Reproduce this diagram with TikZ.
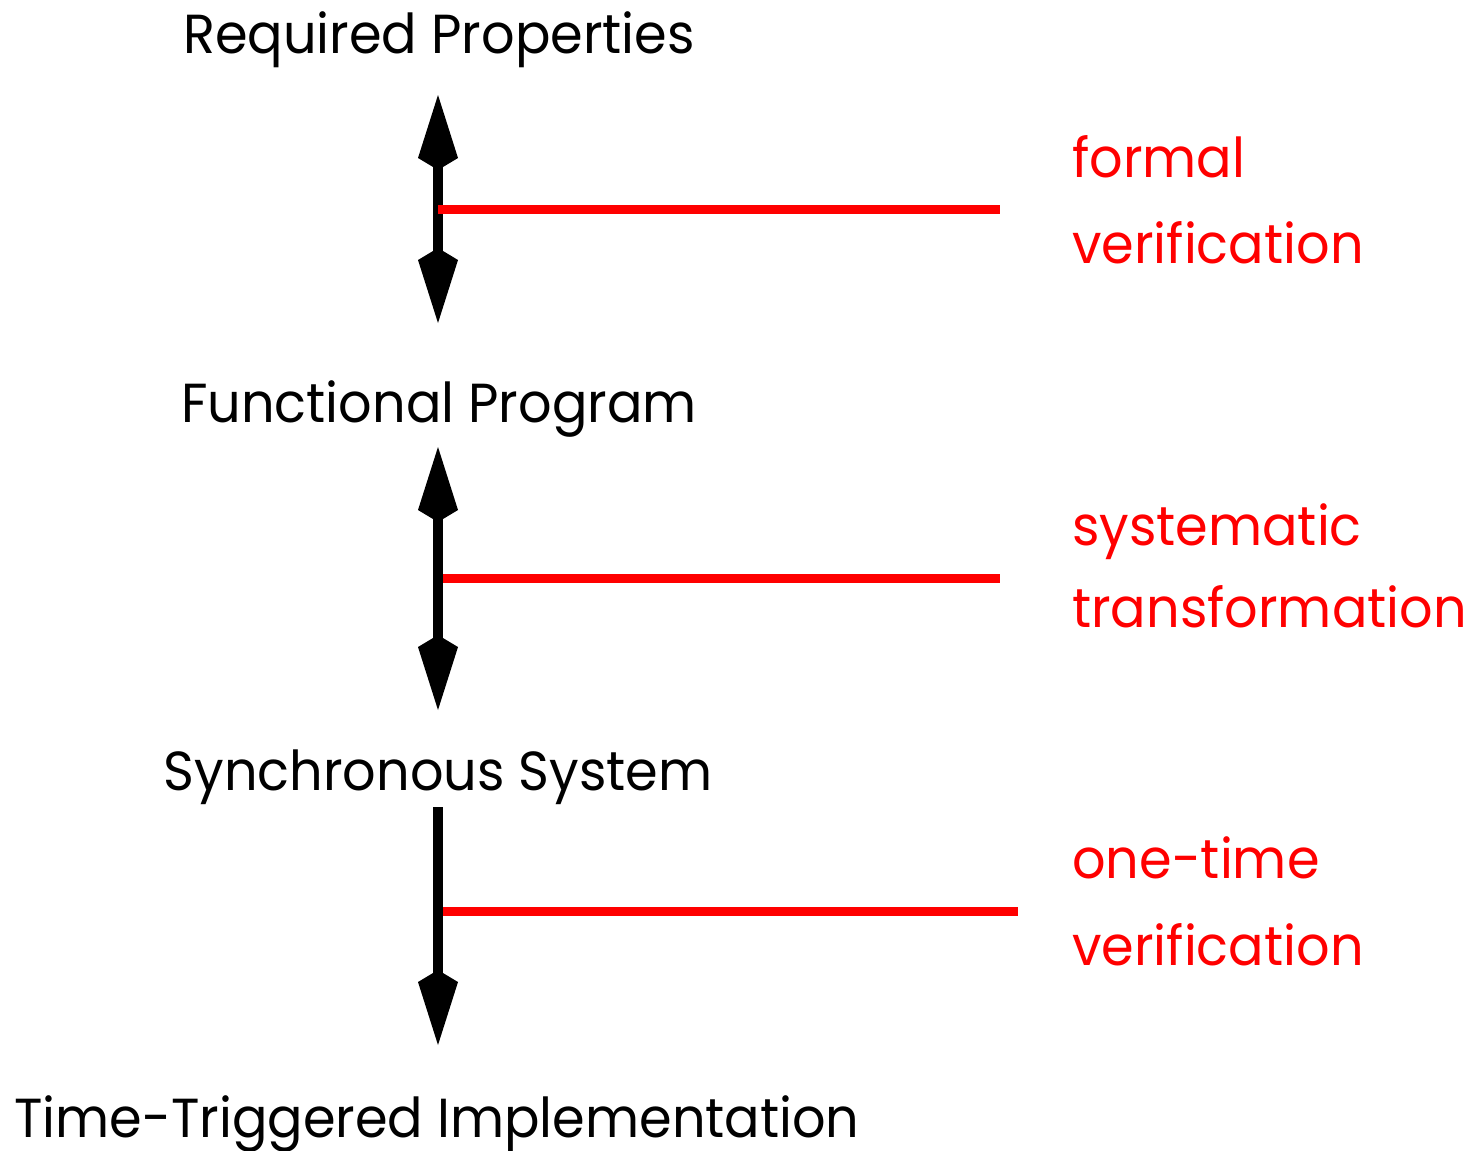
\documentclass[tikz,border=0pt]{standalone}
\usepackage{fontspec}
\setmainfont{Poppins}[FakeStretch=0.955]
\usetikzlibrary{arrows.meta}
\definecolor{vred}{RGB}{255,0,0}
\tikzset{
  stage/.style={anchor=base, inner sep=0pt, font=\fontsize{55}{62}\selectfont},
  method/.style={anchor=base west, inner sep=0pt, text=vred, font=\fontsize{55}{62}\selectfont},
  flow/.style={line width=10pt, -{Kite[length=75pt,width=40pt,inset=12pt]}},
  dflow/.style={line width=10pt, {Kite[length=75pt,width=40pt,inset=12pt]}-{Kite[length=75pt,width=40pt,inset=12pt]}},
  tie/.style={line width=9pt, draw=vred}
}
\begin{document}
\begin{tikzpicture}[x=1pt,y=-1pt]
\useasboundingbox (0,0) rectangle (1473,1151);
% stages
\node[stage] (rp) at (439,53) {Required Properties};
\node[stage] (fp) at (439,422) {Functional Program};
\node[stage] (ss) at (438,790) {Synchronous System};
\node[stage] (tti) at (437,1137) {Time-Triggered Implementation};
% method labels
\node[method] (m1a) at (1072,177) {formal};
\node[method] (m1b) at (1072,263) {verification};
\node[method] (m2a) at (1072,545) {systematic};
\node[method] (m2b) at (1072,627) {transformation};
\node[method] (m3a) at (1072,878) {one-time};
\node[method] (m3b) at (1072,965) {verification};
% arrow ends
\coordinate (a1s) at (438,95);
\coordinate (a1e) at (438,323);
\coordinate (a2s) at (438,447);
\coordinate (a2e) at (438,710);
\coordinate (a3s) at (438,807);
\coordinate (a3e) at (438,1045);
% red tie ends
\coordinate (t1s) at (438,209);
\coordinate (t1e) at (1000,209);
\coordinate (t2s) at (443,578);
\coordinate (t2e) at (1000,578);
\coordinate (t3s) at (443,911);
\coordinate (t3e) at (1018,911);
% arrows
\draw[dflow] (a1s) -- (a1e);
\draw[dflow] (a2s) -- (a2e);
\draw[flow] (a3s) -- (a3e);
% ties
\draw[tie] (t1s) -- (t1e);
\draw[tie] (t2s) -- (t2e);
\draw[tie] (t3s) -- (t3e);
\end{tikzpicture}
\end{document}
